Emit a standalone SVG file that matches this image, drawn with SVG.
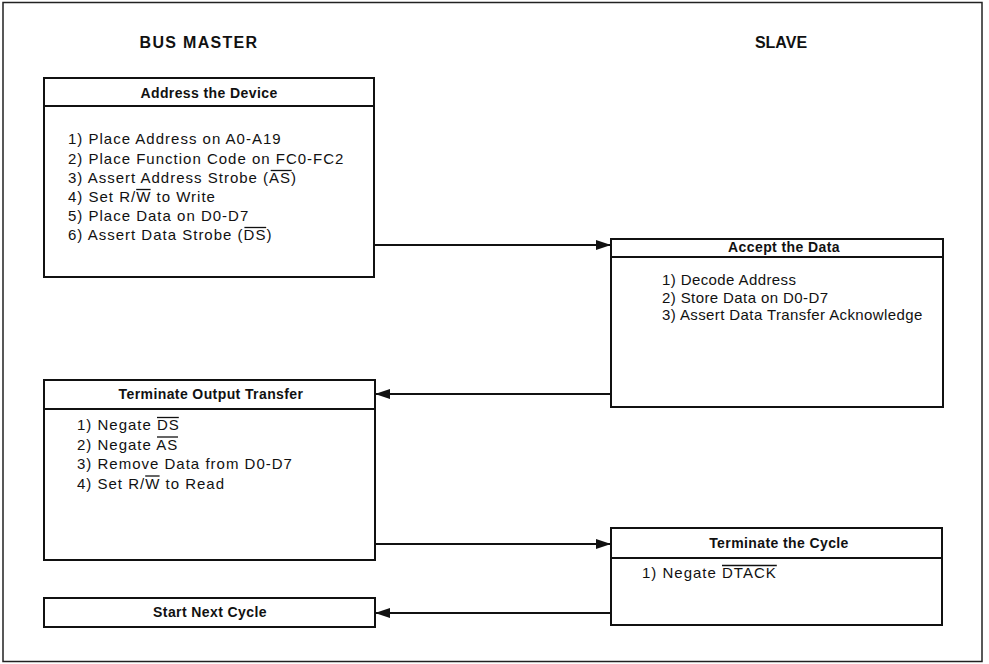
<svg xmlns="http://www.w3.org/2000/svg" width="989" height="664" viewBox="0 0 989 664">
  <defs>
    <style>
      .frame { fill: #fff; stroke: #222; stroke-width: 1.5; }
      .box { fill: #fff; stroke: #111; stroke-width: 2; }
      .sep { stroke: #111; stroke-width: 2; }
      .wire { fill: none; stroke: #111; stroke-width: 2; }
      .bar { stroke: #111; stroke-width: 1.3; }
      .col { font-family: "Liberation Sans", Arial, sans-serif; font-weight: bold; font-size: 16px; fill: #111; text-anchor: middle; }
      .title { font-family: "Liberation Sans", Arial, sans-serif; font-weight: bold; font-size: 14px; letter-spacing: 0.4px; fill: #111; text-anchor: middle; }
      .item { font-family: "Liberation Sans", Arial, sans-serif; font-size: 15px; letter-spacing: 1px; fill: #111; }
      .tight { letter-spacing: 0.4px; }
    </style>
    <marker id="head" markerUnits="userSpaceOnUse" markerWidth="16" markerHeight="12" refX="15" refY="6" orient="auto">
      <path d="M0,1 L15,6 L0,11 Z" fill="#111"/>
    </marker>
  </defs>

  <!-- outer frame -->
  <rect class="frame" x="3" y="2.5" width="979" height="659"/>

  <!-- column headings -->
  <text class="col" x="199" y="48" letter-spacing="1.3">BUS MASTER</text>
  <text class="col" x="781" y="48">SLAVE</text>

  <!-- master: address the device -->
  <g id="address-device">
    <rect class="box" x="44" y="78" width="330" height="199"/>
    <line class="sep" x1="44" y1="106" x2="374" y2="106"/>
    <text class="title" x="209" y="98">Address the Device</text>
    <text class="item" x="68" y="144">1) Place Address on A0-A19</text>
    <text class="item" x="68" y="163.5">2) Place Function Code on FC0-FC2</text>
    <text class="item" x="68" y="183">3) Assert Address Strobe (AS)</text>
    <text class="item" x="68" y="202">4) Set R/W to Write</text>
    <text class="item" x="68" y="221">5) Place Data on D0-D7</text>
    <text class="item" x="68" y="240">6) Assert Data Strobe (DS)</text>
    <!-- active-low bars -->
    <line class="bar" x1="270.7" y1="170.5" x2="291.7" y2="170.5"/>
    <line class="bar" x1="136.2" y1="189.5" x2="150.6" y2="189.5"/>
    <line class="bar" x1="244.4" y1="227.5" x2="266.2" y2="227.5"/>
  </g>

  <!-- slave: accept the data -->
  <g id="accept-data">
    <rect class="box" x="611" y="239" width="332" height="168"/>
    <line class="sep" x1="611" y1="257" x2="943" y2="257"/>
    <text class="title" x="784" y="252">Accept the Data</text>
    <text class="item tight" x="662" y="285">1) Decode Address</text>
    <text class="item tight" x="662" y="302.5">2) Store Data on D0-D7</text>
    <text class="item tight" x="662" y="320">3) Assert Data Transfer Acknowledge</text>
  </g>

  <!-- master: terminate output transfer -->
  <g id="terminate-output">
    <rect class="box" x="44" y="380" width="331" height="180"/>
    <line class="sep" x1="44" y1="409" x2="375" y2="409"/>
    <text class="title" x="211" y="399">Terminate Output Transfer</text>
    <text class="item" x="77" y="430">1) Negate DS</text>
    <text class="item" x="77" y="449.5">2) Negate AS</text>
    <text class="item" x="77" y="469">3) Remove Data from D0-D7</text>
    <text class="item" x="77" y="488.5">4) Set R/W to Read</text>
    <!-- active-low bars -->
    <line class="bar" x1="157" y1="417.5" x2="178.8" y2="417.5"/>
    <line class="bar" x1="157" y1="437" x2="178" y2="437"/>
    <line class="bar" x1="145.2" y1="476" x2="159.6" y2="476"/>
  </g>

  <!-- slave: terminate the cycle -->
  <g id="terminate-cycle">
    <rect class="box" x="611" y="528" width="331" height="97"/>
    <line class="sep" x1="611" y1="558" x2="942" y2="558"/>
    <text class="title" x="779" y="548">Terminate the Cycle</text>
    <text class="item" x="642" y="578">1) Negate DTACK</text>
    <line class="bar" x1="722" y1="565.5" x2="776.8" y2="565.5"/>
  </g>

  <!-- master: start next cycle -->
  <g id="start-next">
    <rect class="box" x="44" y="598" width="331" height="29"/>
    <text class="title" x="210" y="617">Start Next Cycle</text>
  </g>

  <!-- handshake connectors -->
  <g id="connectors">
    <line class="wire" x1="374" y1="245" x2="611" y2="245" marker-end="url(#head)"/>
    <line class="wire" x1="611" y1="394" x2="375" y2="394" marker-end="url(#head)"/>
    <line class="wire" x1="375" y1="544" x2="611" y2="544" marker-end="url(#head)"/>
    <line class="wire" x1="611" y1="613" x2="375" y2="613" marker-end="url(#head)"/>
  </g>
</svg>
